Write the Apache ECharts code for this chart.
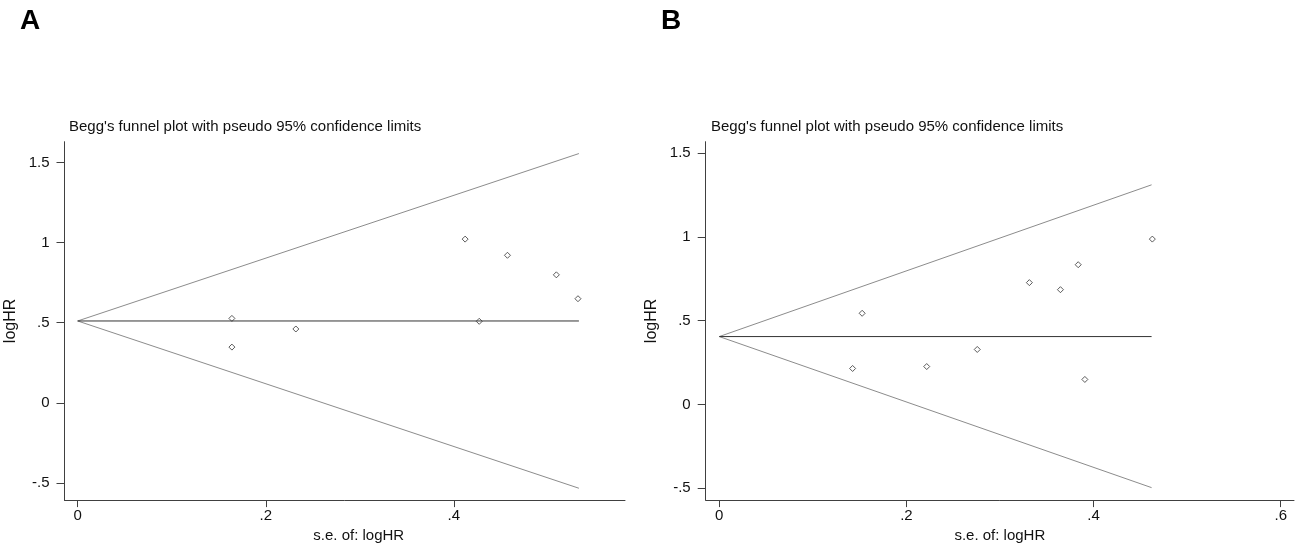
<!DOCTYPE html>
<html>
<head>
<meta charset="utf-8">
<script src="https://cdn.jsdelivr.net/npm/echarts@6/dist/echarts.min.js"></script>
<style>
html,body{margin:0;padding:0;background:#fff;}
#c{width:1299px;height:548px;}
</style>
</head>
<body>
<div id="c"></div>
<script>
// Panel A: studies [s.e. of logHR, logHR]
var pointsA = [[0.164,0.527],[0.164,0.348],[0.232,0.461],[0.412,1.022],[0.427,0.509],[0.457,0.921],[0.509,0.799],[0.532,0.650]];
// Panel A funnel: pooled estimate, max s.e., upper and lower limit at max s.e.
var pooledA = 0.511, seMaxA = 0.533, upperEndA = 1.556, lowerEndA = -0.533;
var xTicksA = [0, 0.2, 0.4];
var yTicksA = [-0.5, 0, 0.5, 1, 1.5];

// Panel B
var pointsB = [[0.1425,0.2145],[0.1527,0.544],[0.2217,0.226],[0.2757,0.328],[0.3314,0.727],[0.3646,0.685],[0.3836,0.834],[0.3907,0.149],[0.4628,0.987]];
var pooledB = 0.405, seMaxB = 0.462, upperEndB = 1.311, lowerEndB = -0.497;
var xTicksB = [0, 0.2, 0.4, 0.6];
var yTicksB = [-0.5, 0, 0.5, 1, 1.5];

var titleText = "Begg's funnel plot with pseudo 95% confidence limits";
var xName = "s.e. of: logHR";
var yName = "logHR";

function fmt(v){
  var s = String(Math.round(v*100)/100);
  return s.replace(/^0\./,'.').replace(/^-0\./,'-.');
}

var axisColor = '#404040';
var font = 'Liberation Sans, Arial, sans-serif';

function xAxisCfg(idx, min, max, ticks, namePad){
  return {
    type:'value', gridIndex:idx, min:min, max:max,
    name:xName, nameLocation:'middle', nameGap:20,
    nameTextStyle:{color:'#111', fontSize:15, fontFamily:font, padding:namePad},
    axisLine:{show:true, onZero:false, lineStyle:{color:axisColor, width:1}},
    axisTick:{show:true, length:7, customValues:ticks, lineStyle:{color:axisColor}},
    axisLabel:{customValues:ticks, formatter:fmt, color:'#111', fontSize:15, fontFamily:font, margin:8},
    splitLine:{show:false}
  };
}
function yAxisCfg(idx, min, max, ticks){
  return {
    type:'value', gridIndex:idx, min:min, max:max,
    name:yName, nameLocation:'middle', nameGap:46,
    nameTextStyle:{color:'#111', fontSize:16, fontFamily:font},
    axisLine:{show:true, onZero:false, lineStyle:{color:axisColor, width:1}},
    axisTick:{show:true, length:8, customValues:ticks, lineStyle:{color:axisColor}},
    axisLabel:{customValues:ticks, formatter:fmt, color:'#111', fontSize:15, fontFamily:font, margin:15},
    splitLine:{show:false}
  };
}

function lineSeries(idx, data, color){
  return {type:'line', xAxisIndex:idx, yAxisIndex:idx, data:data, symbol:'none',
    lineStyle:{color:color, width:1}, silent:true, animation:false};
}
function scatterSeries(idx, data){
  return {type:'scatter', xAxisIndex:idx, yAxisIndex:idx, data:data, symbol:'diamond', symbolSize:6,
    itemStyle:{color:'#fff', borderColor:'#333', borderWidth:1}, animation:false};
}

var chart = echarts.init(document.getElementById('c'), null, {renderer:'canvas'});
chart.setOption({
  backgroundColor:'#fff',
  animation:false,
  title:[
    {text:'A', left:15, top:2, textStyle:{fontSize:28, fontWeight:'bold', color:'#000', fontFamily:font}},
    {text:'B', left:656, top:2, textStyle:{fontSize:28, fontWeight:'bold', color:'#000', fontFamily:font}},
    {text:titleText, left:64, top:114, textStyle:{fontSize:15, fontWeight:'normal', color:'#111', fontFamily:font}},
    {text:titleText, left:706, top:114, textStyle:{fontSize:15, fontWeight:'normal', color:'#111', fontFamily:font}}
  ],
  grid:[
    {left:64.5, right:674, top:141.7, bottom:44},
    {left:705.7, right:5, top:141.7, bottom:45.3}
  ],
  xAxis:[
    xAxisCfg(0, -0.014, 0.582, xTicksA, [0,0,0,28]),
    xAxisCfg(1, -0.0145, 0.6142, xTicksB, [0,0,0,0])
  ],
  yAxis:[
    yAxisCfg(0, -0.607, 1.63, yTicksA),
    yAxisCfg(1, -0.5714, 1.5685, yTicksB)
  ],
  series:[
    lineSeries(0, [[0,pooledA],[seMaxA,upperEndA]], '#8c8c8c'),
    lineSeries(0, [[0,pooledA],[seMaxA,lowerEndA]], '#8c8c8c'),
    lineSeries(0, [[0,pooledA],[seMaxA,pooledA]], '#333'),
    scatterSeries(0, pointsA),
    lineSeries(1, [[0,pooledB],[seMaxB,upperEndB]], '#8c8c8c'),
    lineSeries(1, [[0,pooledB],[seMaxB,lowerEndB]], '#8c8c8c'),
    lineSeries(1, [[0,pooledB],[seMaxB,pooledB]], '#333'),
    scatterSeries(1, pointsB)
  ]
});
</script>
</body>
</html>
